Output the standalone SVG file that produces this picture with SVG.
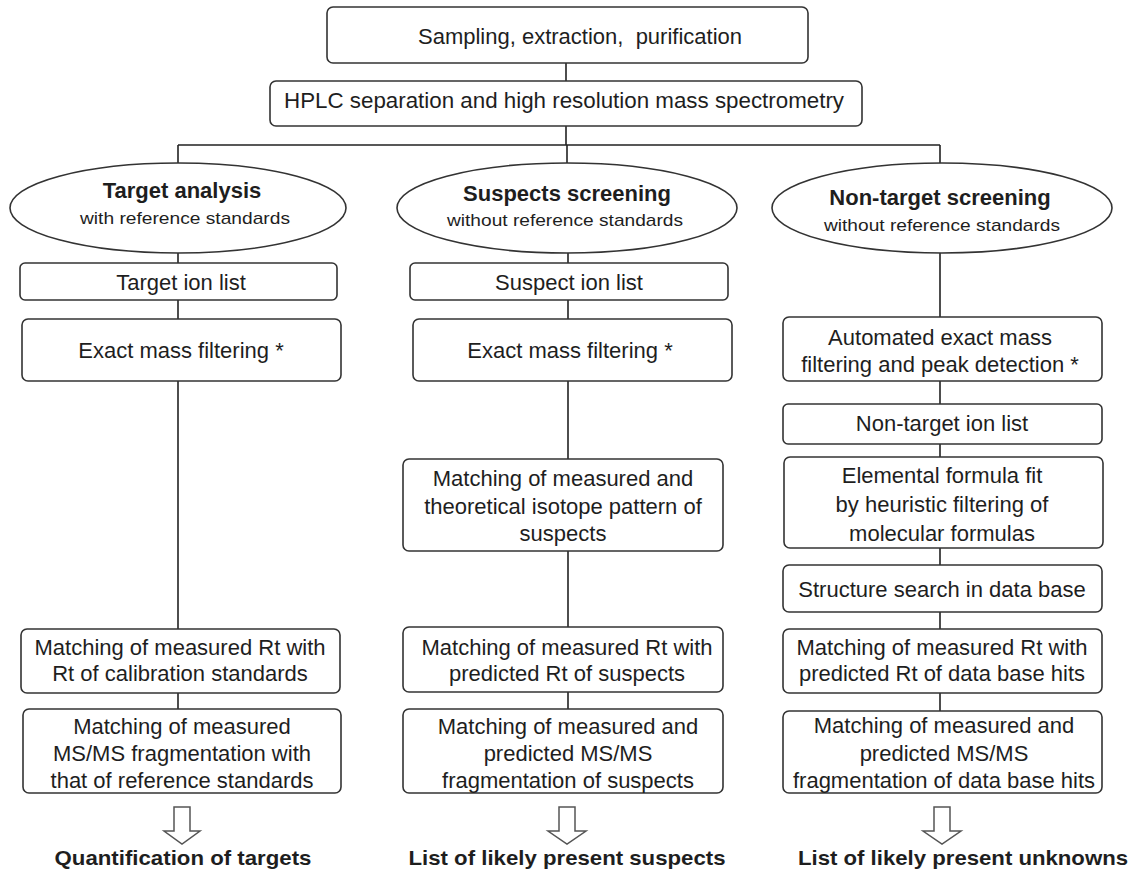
<svg xmlns="http://www.w3.org/2000/svg" width="1137" height="872" viewBox="0 0 1137 872">
<style>
.box{fill:#fff;stroke:#333;stroke-width:1.6}
.ell{fill:#fff;stroke:#333;stroke-width:1.6}
.ln{fill:none;stroke:#222;stroke-width:1.6}
.arr{fill:#fff;stroke:#555;stroke-width:1.5;stroke-linejoin:miter}
text{font-family:"Liberation Sans",Arial,sans-serif;fill:#1e1e1e;text-anchor:middle}
.t{font-size:22px}
.b{font-size:22px;font-weight:bold}
.o{font-size:21px;font-weight:bold}
.s{font-size:17px}
</style>
<rect width="1137" height="872" fill="#fff"/>
<g id="connectors">
<path class="ln" d="M566 63V81M566 126V145M178 145H940M178 145V163M567 145V163M940 145V163"/>
<path class="ln" d="M178 253V263M178 300V319M178 381V629M178 693V709"/>
<path class="ln" d="M568 253V263M568 300V319M568 381V459M568 551V627M568 692V709"/>
<path class="ln" d="M940 253V317M940 381V404M940 444V457M940 548V565M940 612V629M940 693V711"/>
</g>
<g id="n-sampling"><rect class="box" x="327" y="7" width="481" height="56" rx="6"/><text class="t" x="580" y="44" xml:space="preserve">Sampling, extraction,  purification</text></g>
<g id="n-hplc"><rect class="box" x="270" y="81" width="592" height="45" rx="6"/><text class="t" x="564" y="108" textLength="560" lengthAdjust="spacingAndGlyphs">HPLC separation and high resolution mass spectrometry</text></g>
<g id="n-target"><ellipse class="ell" cx="178" cy="208" rx="168" ry="45"/><text class="b" x="182" y="198">Target analysis</text><text class="s" x="185" y="224" textLength="210" lengthAdjust="spacingAndGlyphs">with reference standards</text></g>
<g id="n-suspects"><ellipse class="ell" cx="567" cy="208" rx="170" ry="45"/><text class="b" x="567" y="201">Suspects screening</text><text class="s" x="565" y="226" textLength="236" lengthAdjust="spacingAndGlyphs">without reference standards</text></g>
<g id="n-nontarget"><ellipse class="ell" cx="942" cy="208" rx="170" ry="45"/><text class="b" x="940" y="205">Non-target screening</text><text class="s" x="942" y="231" textLength="236" lengthAdjust="spacingAndGlyphs">without reference standards</text></g>
<g id="n-target-ion"><rect class="box" x="20" y="263" width="317" height="37" rx="5"/><text class="t" x="181" y="290">Target ion list</text></g>
<g id="n-exact1"><rect class="box" x="22" y="319" width="319" height="62" rx="6"/><text class="t" x="181" y="358">Exact mass filtering *</text></g>
<g id="n-rt1"><rect class="box" x="21" y="629" width="319" height="64" rx="6"/><text class="t" x="180" y="655">Matching of measured Rt with</text><text class="t" x="180" y="681">Rt of calibration standards</text></g>
<g id="n-msms1"><rect class="box" x="23" y="709" width="318" height="84" rx="6"/><text class="t" x="182" y="734">Matching of measured</text><text class="t" x="182" y="761">MS/MS fragmentation with</text><text class="t" x="182" y="788">that of reference standards</text></g>
<g id="n-suspect-ion"><rect class="box" x="410" y="263" width="318" height="37" rx="5"/><text class="t" x="569" y="290">Suspect ion list</text></g>
<g id="n-exact2"><rect class="box" x="413" y="319" width="319" height="62" rx="6"/><text class="t" x="570" y="358">Exact mass filtering *</text></g>
<g id="n-isotope"><rect class="box" x="403" y="459" width="320" height="92" rx="6"/><text class="t" x="563" y="486">Matching of measured and</text><text class="t" x="563" y="514">theoretical isotope pattern of</text><text class="t" x="563" y="541">suspects</text></g>
<g id="n-rt2"><rect class="box" x="403" y="627" width="320" height="65" rx="6"/><text class="t" x="567" y="655">Matching of measured Rt with</text><text class="t" x="567" y="681">predicted Rt of suspects</text></g>
<g id="n-msms2"><rect class="box" x="403" y="709" width="320" height="84" rx="6"/><text class="t" x="568" y="734">Matching of measured and</text><text class="t" x="568" y="761">predicted MS/MS</text><text class="t" x="568" y="788">fragmentation of suspects</text></g>
<g id="n-automated"><rect class="box" x="783" y="317" width="319" height="64" rx="6"/><text class="t" x="940" y="345">Automated exact mass</text><text class="t" x="940" y="372">filtering and peak detection *</text></g>
<g id="n-nontarget-ion"><rect class="box" x="783" y="404" width="319" height="40" rx="5"/><text class="t" x="942" y="431">Non-target ion list</text></g>
<g id="n-elemental"><rect class="box" x="784" y="457" width="319" height="91" rx="6"/><text class="t" x="942" y="483">Elemental formula fit</text><text class="t" x="942" y="512">by heuristic filtering of</text><text class="t" x="942" y="541">molecular formulas</text></g>
<g id="n-structure"><rect class="box" x="783" y="565" width="319" height="47" rx="6"/><text class="t" x="942" y="597">Structure search in data base</text></g>
<g id="n-rt3"><rect class="box" x="783" y="629" width="319" height="64" rx="6"/><text class="t" x="942" y="655">Matching of measured Rt with</text><text class="t" x="942" y="681">predicted Rt of data base hits</text></g>
<g id="n-msms3"><rect class="box" x="783" y="711" width="319" height="82" rx="6"/><text class="t" x="944" y="733">Matching of measured and</text><text class="t" x="944" y="761">predicted MS/MS</text><text class="t" x="944" y="788">fragmentation of data base hits</text></g>
<g id="arrows">
<polygon class="arr" points="174,807 190,807 190,831 200,831 182,844 164,831 174,831"/>
<polygon class="arr" points="559,807 575,807 575,831 586,831 567,844 548,831 559,831"/>
<polygon class="arr" points="934,807 950,807 950,831 961,831 942,844 923,831 934,831"/>
</g>
<g id="n-out1"><text class="o" x="183" y="865" textLength="257" lengthAdjust="spacingAndGlyphs">Quantification of targets</text></g>
<g id="n-out2"><text class="o" x="567" y="865" textLength="317" lengthAdjust="spacingAndGlyphs">List of likely present suspects</text></g>
<g id="n-out3"><text class="o" x="963" y="865" textLength="330" lengthAdjust="spacingAndGlyphs">List of likely present unknowns</text></g>
</svg>
